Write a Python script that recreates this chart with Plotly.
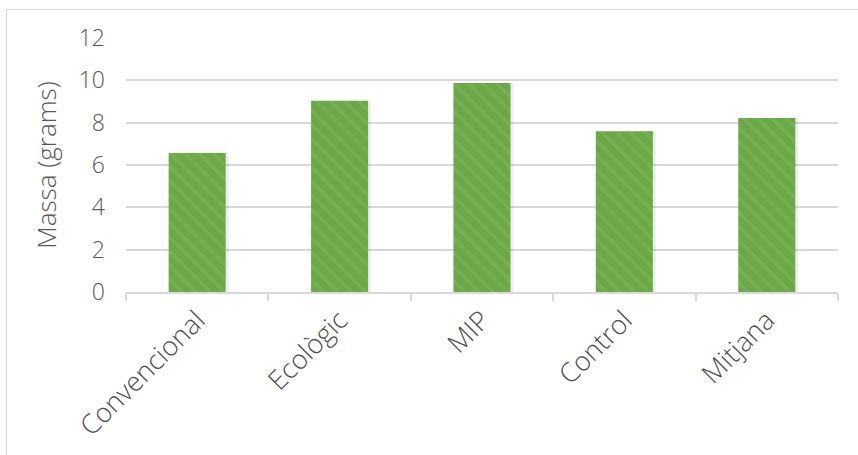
import plotly.graph_objects as go

# Mean mass per treatment
categories = ["Convencional", "Ecològic", "MIP", "Control", "Mitjana"]
mass_grams = [6.57, 9.03, 9.87, 7.6, 8.22]
y_ticks = [0, 2, 4, 6, 8, 10, 12]

W, H = 858, 455
ML, MR, MT, MB = 126, 20, 38, 163

fig = go.Figure()

# soft shadow beneath each bar
fig.add_trace(go.Bar(
    x=categories, y=mass_grams, width=0.425, offset=-0.205,
    marker=dict(color="rgba(0,0,0,0.07)", line=dict(width=0)),
    hoverinfo="skip", showlegend=False,
))
fig.add_trace(go.Bar(
    x=categories, y=mass_grams, width=0.40, offset=-0.2,
    marker=dict(
        color="#6CA748",
        line=dict(width=0),
        pattern=dict(shape="\\", fgcolor="#7DB85C", bgcolor="#6CA748",
                     size=10, solidity=0.35),
    ),
    showlegend=False,
))

# outer chart frame, in pixel terms converted to paper coordinates
pw, ph = W - ML - MR, H - MT - MB
def px(x):
    return (x - ML) / pw
def py(y):
    return 1 - (y - MT) / ph

fig.add_shape(type="rect", xref="paper", yref="paper",
              x0=px(6.5), x1=px(860), y0=py(9.5), y1=py(460),
              line=dict(color="#D9D9D9", width=1), fillcolor="rgba(0,0,0,0)",
              layer="below")

fig.update_layout(
    width=W, height=H,
    margin=dict(l=ML, r=MR, t=MT, b=MB),
    paper_bgcolor="white", plot_bgcolor="white",
    barmode="overlay",
    xaxis=dict(
        tickangle=-45,
        tickfont=dict(family="Open Sans", size=27, color="#505050", weight=300),
        showline=True, linecolor="#D9D9D9", linewidth=1.5,
        ticks="outside", tickson="boundaries", ticklen=7,
        tickcolor="#D9D9D9", tickwidth=1.5,
        showgrid=False,
    ),
    yaxis=dict(
        range=[0, 12], tickvals=y_ticks,
        tickfont=dict(family="Open Sans", size=23, color="#595959", weight=300),
        showgrid=True, gridcolor="#D9D9D9", gridwidth=1.5,
        zeroline=False, showline=False, ticks="", ticklabelstandoff=20,
        title=dict(text="Massa (grams)", standoff=14,
                   font=dict(family="Open Sans", size=26, color="#595959",
                             weight=300)),
    ),
)

fig.write_html("out.html")
